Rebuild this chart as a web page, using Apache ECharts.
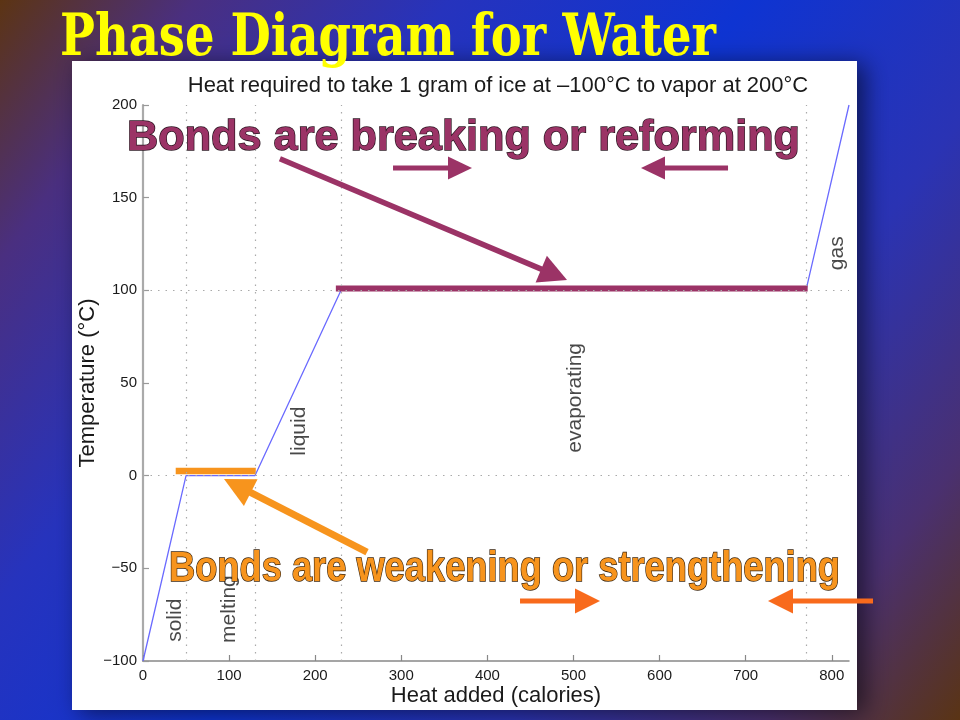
<!DOCTYPE html>
<html><head><meta charset="utf-8">
<script src="https://cdn.jsdelivr.net/npm/echarts@6/dist/echarts.min.js"></script>
<style>html,body{margin:0;padding:0;background:#000}#c{width:960px;height:720px}</style>
</head><body><div id="c"></div>
<script>
// ---- data ----
const heat = [0, 50, 130, 230, 770, 820];
const temperature = [-100, 0, 0, 100, 100, 200];
const xTicks = [0, 100, 200, 300, 400, 500, 600, 700, 800];
const yTicks = [-100, -50, 0, 50, 100, 150, 200];
const transitionHeat = [50, 130, 230, 770];
const transitionTemp = [0, 100];
const phaseNames = ['solid', 'melting', 'liquid', 'evaporating', 'gas'];
const phaseLabelX = [37, 100, 182, 502, 806];
const phaseLabelY = [-78, -72, 24, 42, 120];
const evapHighlightX = [224, 772];
const evapHighlightY = [101, 101];
const meltHighlightX = [38, 131];
const meltHighlightY = [2.5, 2.5];
// annotation arrows: [fromHeat, fromTemp, toHeat, toTemp]
const purpleDiagArrow = [[159, 171, 492.5, 105.6]];
const purpleSideArrows = [[290.4, 166, 382.1, 166], [679.5, 166, 578.4, 166]];
const orangeDiagArrow = [[260.2, -41.2, 94.1, -1.8]];
const orangeSideArrows = [[437.9, -67.6, 530.8, -67.6], [847.9, -67.6, 725.9, -67.6]];

const mainTitle = 'Phase Diagram for Water';
const plotTitle = 'Heat required to take 1 gram of ice at \u2013100\u00B0C to vapor at 200\u00B0C';
const breakingText = 'Bonds are breaking or reforming';
const weakeningText = 'Bonds are weakening or strengthening';

// ---- styles ----
const PURPLE = '#9b3366', ORANGE = '#f7941d', RED_ORANGE = '#f86a1c';
const mctx = document.createElement('canvas').getContext('2d');
function fit(text, font, target) { mctx.font = font; return target / mctx.measureText(text).width; }
function minus(v) { return v < 0 ? '\u2212' + (-v) : String(v); }

function arrowSeries(list, color, width, headL, headW) {
  return {
    type: 'custom', coordinateSystem: 'cartesian2d', clip: false, silent: true, z: 6,
    data: list, encode: { x: [0, 2], y: [1, 3] },
    renderItem: function (params, api) {
      const p1 = api.coord([api.value(0), api.value(1)]);
      const p2 = api.coord([api.value(2), api.value(3)]);
      const dx = p2[0] - p1[0], dy = p2[1] - p1[1], L = Math.hypot(dx, dy);
      const ux = dx / L, uy = dy / L, hw = headW / 2;
      const bx = p2[0] - ux * headL, by = p2[1] - uy * headL;
      return { type: 'group', children: [
        { type: 'line', shape: { x1: p1[0], y1: p1[1], x2: bx + ux * 2, y2: by + uy * 2 },
          style: { stroke: color, lineWidth: width, lineCap: 'butt' } },
        { type: 'polygon', shape: { points: [[p2[0], p2[1]], [bx - uy * hw, by + ux * hw], [bx + uy * hw, by - ux * hw]] },
          style: { fill: color } }
      ] };
    }
  };
}

const titleFont = 'bold 58px "DejaVu Serif"';
const bannerFont = 'bold 43px "Liberation Sans"';
const bannerFont2 = 'bold 42px "Liberation Sans"';

const chart = echarts.init(document.getElementById('c'), null, { renderer: 'canvas' });
chart.setOption({
  animation: false,
  title: {
    text: plotTitle, left: 493, top: 70, textAlign: 'center',
    textStyle: { fontFamily: 'Liberation Sans', fontSize: 22, fontWeight: 'normal', color: '#1a1a1a' }
  },
  grid: { left: 143, right: 111, top: 105, bottom: 59, containLabel: false },
  xAxis: {
    type: 'value', min: 0, max: 820,
    name: 'Heat added (calories)', nameLocation: 'middle', nameGap: 24, nameMoveOverlap: false,
    nameTextStyle: { fontFamily: 'Liberation Sans', fontSize: 22, color: '#1a1a1a' },
    axisLine: { show: true, onZero: false, lineStyle: { color: '#888', width: 1.5 } },
    axisTick: { show: true, inside: true, length: 6, customValues: xTicks, lineStyle: { color: '#888', width: 1.2 } },
    axisLabel: { customValues: xTicks, margin: 7, fontFamily: 'Liberation Sans', fontSize: 15, color: '#1a1a1a', formatter: minus },
    splitLine: { show: false }
  },
  yAxis: {
    type: 'value', min: -100, max: 200,
    name: 'Temperature (\u00B0C)', nameLocation: 'middle', nameGap: 44, nameMoveOverlap: false,
    nameTextStyle: { fontFamily: 'Liberation Sans', fontSize: 22, color: '#1a1a1a' },
    axisLine: { show: true, onZero: false, lineStyle: { color: '#aaa', width: 2.2 } },
    axisTick: { show: true, inside: true, length: 6, customValues: yTicks, lineStyle: { color: '#999', width: 1.2 } },
    axisLabel: { customValues: yTicks, margin: 6, fontFamily: 'Liberation Sans', fontSize: 15, color: '#1a1a1a', formatter: minus },
    splitLine: { show: false }
  },
  graphic: [
    { type: 'rect', z: -20, shape: { x: 0, y: 0, width: 960, height: 720 },
      style: { fill: new echarts.graphic.LinearGradient(0, 0, 1, 1, [
        { offset: 0, color: '#5c3413' }, { offset: 0.13, color: '#4a2f80' },
        { offset: 0.3, color: '#2633bd' }, { offset: 0.5, color: '#0e34d2' },
        { offset: 0.7, color: '#2a33b4' }, { offset: 0.87, color: '#4a3070' },
        { offset: 1, color: '#5a3414' }]) } },
    { type: 'rect', z: -10, shape: { x: 72, y: 61, width: 785, height: 649 },
      style: { fill: '#ffffff', shadowBlur: 22, shadowColor: 'rgba(0,0,0,0.55)', shadowOffsetX: 8, shadowOffsetY: 3 } },
    { type: 'text', z: 100, x: 60, y: 40, scaleX: fit(mainTitle, titleFont, 656),
      style: { text: mainTitle, font: titleFont, fill: '#ffff00', align: 'left', verticalAlign: 'middle', textAlign: 'left', textVerticalAlign: 'middle' } },
    { type: 'text', z: 100, x: 127, y: 138, scaleX: fit(breakingText, bannerFont, 673),
      style: { text: breakingText, font: bannerFont, fill: PURPLE, stroke: '#2a1520', lineWidth: 1.4,
        align: 'left', verticalAlign: 'middle', textAlign: 'left', textVerticalAlign: 'middle' } },
    { type: 'text', z: 100, x: 169, y: 569, scaleX: fit(weakeningText, bannerFont2, 671),
      style: { text: weakeningText, font: bannerFont2, fill: ORANGE, stroke: '#3b2610', lineWidth: 1.4,
        align: 'left', verticalAlign: 'middle', textAlign: 'left', textVerticalAlign: 'middle' } }
  ],
  series: [
    {
      type: 'line', name: 'water', data: heat.map((h, i) => [h, temperature[i]]),
      symbol: 'none', lineStyle: { color: '#6a6aff', width: 1.3 }, z: 3, silent: true,
      markLine: {
        silent: true, symbol: 'none', label: { show: false },
        lineStyle: { type: [1.5, 6], color: '#aaa', width: 1.2 },
        data: transitionHeat.map(v => ({ xAxis: v })).concat(transitionTemp.map(v => ({ yAxis: v })))
      }
    },
    {
      type: 'line', name: 'evaporation', data: evapHighlightX.map((x, i) => [x, evapHighlightY[i]]),
      symbol: 'none', lineStyle: { color: PURPLE, width: 6, cap: 'butt' }, z: 4, silent: true
    },
    {
      type: 'line', name: 'melting', data: meltHighlightX.map((x, i) => [x, meltHighlightY[i]]),
      symbol: 'none', lineStyle: { color: ORANGE, width: 6.5, cap: 'butt' }, z: 4, silent: true
    },
    {
      type: 'scatter', name: 'phases', symbolSize: 0, silent: true, z: 5,
      data: phaseNames.map((n, i) => [phaseLabelX[i], phaseLabelY[i], n]),
      label: { show: true, position: 'inside', rotate: 90, formatter: p => p.data[2],
        fontFamily: 'Liberation Sans', fontSize: 21, color: '#1a1a1a' }
    },
    arrowSeries(purpleDiagArrow, PURPLE, 5.5, 28, 29),
    arrowSeries(purpleSideArrows, PURPLE, 5, 24, 23),
    arrowSeries(orangeDiagArrow, ORANGE, 7, 30, 30),
    arrowSeries(orangeSideArrows, RED_ORANGE, 5, 25, 25)
  ]
});
</script>
</body></html>
